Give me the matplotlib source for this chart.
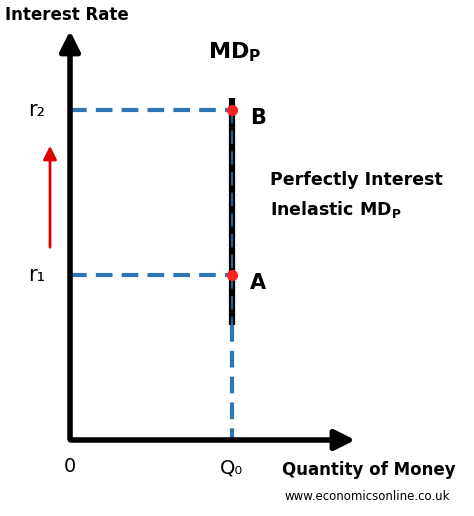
import matplotlib
matplotlib.use("Agg")
import matplotlib.pyplot as plt

# Data (in chart pixel-like coordinates: x grows right, y grows down)
origin = (70, 440)
q0 = 232
rates = {"r₂": 110, "r₁": 275}
point_labels = ["B", "A"]
md_top, md_bottom = 98, 325

fig = plt.figure(figsize=(4.74, 5.16), dpi=100)
ax = fig.add_axes([0, 0, 1, 1])
ax.set_xlim(0, 474); ax.set_ylim(516, 0); ax.axis("off")

ox, oy = origin
blue = "#2e75b6"
ax.annotate("", xy=(ox, 28), xytext=(ox, oy + 2),
            arrowprops=dict(arrowstyle="-|>,head_length=1.2,head_width=0.6", lw=4, color="black"))
ax.annotate("", xy=(358, oy), xytext=(ox - 2, oy),
            arrowprops=dict(arrowstyle="-|>,head_length=1.2,head_width=0.6", lw=4, color="black"))
ax.plot([q0, q0], [md_top, md_bottom], color="black", lw=4.5, solid_capstyle="butt")
for y in rates.values():
    ax.plot([ox, q0], [y, y], ls=(0, (4, 2.2)), color=blue, lw=3)
ax.plot([q0, q0], [min(rates.values()), md_bottom], ls=(0, (8, 4.4)), color=blue, lw=1.2)
ax.plot([q0, q0], [md_bottom, oy], ls=(0, (4, 2.2)), color=blue, lw=3)
for (lab, y), pl in zip(rates.items(), point_labels):
    ax.plot(q0, y, "o", color="#ff2020", ms=7, zorder=5)
    ax.text(28, y, lab, fontsize=15, va="center", ha="left")
    ax.text(250, y + 8, pl, fontsize=15, fontweight="bold", va="center")
ax.annotate("", xy=(50, 143), xytext=(50, 250),
            arrowprops=dict(arrowstyle="-|>,head_length=0.8,head_width=0.4", lw=2, color="#e00000"))
ax.text(5, 15, "Interest Rate", fontsize=12, fontweight="bold", va="center")
ax.text(208, 52, "MD$_\\mathbf{P}$", fontsize=16, fontweight="bold", va="center")
ax.text(270, 180, "Perfectly Interest", fontsize=12.5, fontweight="bold", va="center")
ax.text(270, 210, "Inelastic MD$_\\mathbf{P}$", fontsize=12.5, fontweight="bold", va="center")
ax.text(70, 466, "0", fontsize=14, ha="center", va="center")
ax.text(232, 468, "Q₀", fontsize=14, ha="center", va="center")
ax.text(282, 470, "Quantity of Money", fontsize=12, fontweight="bold", va="center")
ax.text(285, 497, "www.economicsonline.co.uk", fontsize=8.5, va="center")
fig.savefig("out.png", dpi=100)
